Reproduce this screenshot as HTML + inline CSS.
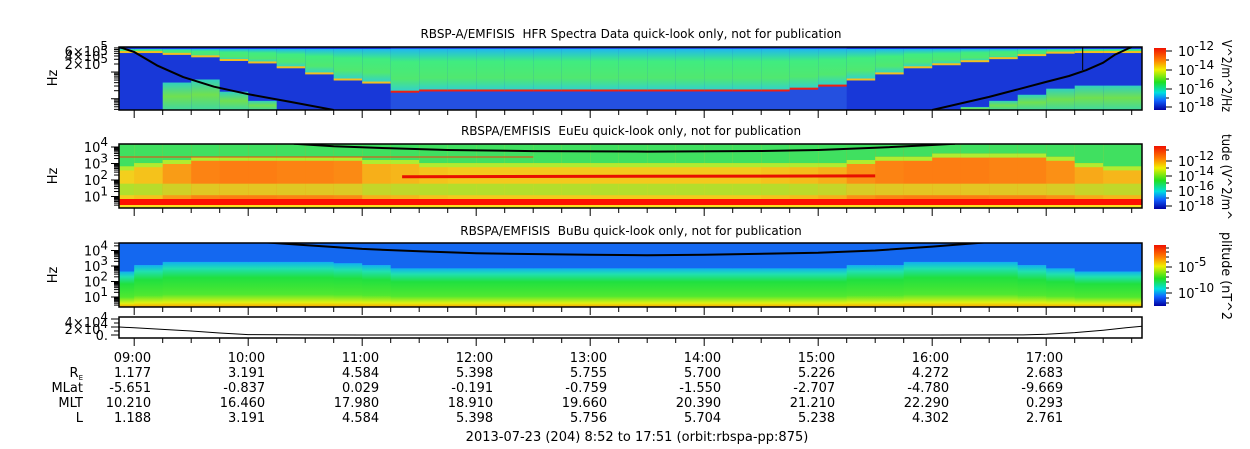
<!DOCTYPE html>
<html><head><meta charset="utf-8"><style>
html,body{margin:0;padding:0;background:#fff;}
svg{display:block;font-family:"DejaVu Sans","Liberation Sans",sans-serif;}
text{fill:#000;}
</style></head><body>
<svg id="chart" width="1250" height="449" viewBox="0 0 1250 449" xmlns="http://www.w3.org/2000/svg">
<defs>
<linearGradient id="jet" x1="0" y1="0" x2="0" y2="1">
<stop offset="0" stop-color="#f01000"/><stop offset="0.2" stop-color="#ff8000"/><stop offset="0.35" stop-color="#f0f000"/><stop offset="0.55" stop-color="#20e020"/><stop offset="0.72" stop-color="#00e0e0"/><stop offset="0.85" stop-color="#1060ff"/><stop offset="1" stop-color="#0000a0"/>
</linearGradient>
<linearGradient id="hfrGreen" x1="0" y1="0" x2="0" y2="1">
<stop offset="0" stop-color="#20b8f0"/><stop offset="0.3" stop-color="#40ec80"/><stop offset="0.7" stop-color="#50e870"/><stop offset="1" stop-color="#30d0d0"/>
</linearGradient>
<linearGradient id="hfrLowG" x1="0" y1="0" x2="0" y2="1">
<stop offset="0" stop-color="#30d0c0"/><stop offset="0.5" stop-color="#70e050"/><stop offset="1" stop-color="#40d8a0"/>
</linearGradient>
<linearGradient id="buGrad" x1="0" y1="0" x2="0" y2="1">
<stop offset="0" stop-color="#10b0f0"/><stop offset="0.15" stop-color="#20e0b0"/><stop offset="0.35" stop-color="#20e040"/><stop offset="0.72" stop-color="#50e830"/><stop offset="0.9" stop-color="#e0f010"/><stop offset="1" stop-color="#ffa000"/>
</linearGradient>
<clipPath id="c1"><rect x="119" y="47" width="1023" height="63"/></clipPath>
<clipPath id="c2"><rect x="119" y="144" width="1023" height="64"/></clipPath>
<clipPath id="c3"><rect x="119" y="243" width="1023" height="64"/></clipPath>
<clipPath id="c4"><rect x="119" y="317" width="1023" height="21"/></clipPath>
</defs>
<g id="p1" clip-path="url(#c1)"></g>
<g id="p2" clip-path="url(#c2)"></g>
<g id="p3" clip-path="url(#c3)"></g>
<g id="p4" clip-path="url(#c4)"></g>
<g id="axes"></g>
<g id="labels" font-size="13"></g>
</svg>
<script>
// ---- data ----
const colTimes = [8.875,9.125,9.375,9.625,9.875,10.125,10.375,10.625,10.875,11.125,11.375,11.625,11.875,12.125,12.375,12.625,12.875,13.125,13.375,13.625,13.875,14.125,14.375,14.625,14.875,15.125,15.375,15.625,15.875,16.125,16.375,16.625,16.875,17.125,17.375,17.625];
const hfrTop = [0.05,0.05,0.08,0.12,0.18,0.22,0.3,0.4,0.5,0.55,0.7,0.68,0.68,0.68,0.68,0.68,0.68,0.68,0.68,0.68,0.68,0.68,0.68,0.68,0.65,0.6,0.5,0.4,0.3,0.25,0.2,0.15,0.1,0.06,0.05,0.05];
const hfrLow = [1,1,0.55,0.5,0.7,0.85,1,1,1,1,1,1,1,1,1,1,1,1,1,1,1,1,1,1,1,1,1,1,1,1,0.95,0.85,0.75,0.65,0.6,0.6];
const euTop = [0.35,0.3,0.25,0.2,0.2,0.2,0.2,0.2,0.2,0.25,0.25,0.3,0.3,0.3,0.3,0.3,0.3,0.3,0.3,0.3,0.3,0.3,0.3,0.3,0.3,0.3,0.25,0.2,0.2,0.15,0.15,0.15,0.15,0.2,0.3,0.35];
const euLevel = [0.2,0.3,0.6,0.8,0.85,0.85,0.8,0.8,0.75,0.45,0.4,0.3,0.25,0.25,0.25,0.25,0.25,0.25,0.25,0.25,0.25,0.25,0.25,0.3,0.35,0.45,0.7,0.8,0.85,0.85,0.85,0.8,0.8,0.7,0.5,0.4];
const buTop = [0.45,0.35,0.3,0.3,0.3,0.3,0.3,0.3,0.32,0.35,0.4,0.4,0.4,0.4,0.4,0.4,0.4,0.4,0.4,0.4,0.4,0.4,0.4,0.4,0.4,0.4,0.35,0.35,0.3,0.3,0.3,0.3,0.35,0.4,0.45,0.45];
const hfrLineLeftT = [8.867,9.0,9.2,9.43,9.7,10.0,10.37,10.75];
const hfrLineLeftF = [5.94,5.75,5.25,4.81,4.45,4.17,3.88,3.58];
const hfrLineRightT = [16.0,16.5,17.0,17.2,17.35,17.5,17.6,17.75];
const hfrLineRightF = [3.58,4.07,4.63,4.85,5.07,5.35,5.64,5.94];
const euLineT = [10.4,10.75,11.25,11.75,12.5,13.5,14.5,15.0,15.5,16.0,16.2];
const euLineF = [4.2,4.05,3.92,3.82,3.75,3.72,3.76,3.82,3.95,4.12,4.2];
const buLineT = [10.0,10.5,11,11.5,12,13,13.5,14,15,15.5,16,16.6];
const buLineF = [4.6,4.35,4.1,3.95,3.82,3.72,3.7,3.72,3.85,4.0,4.25,4.6];
const denT = [8.867,9.0,9.25,9.5,9.75,10.0,10.5,11,12,13,14,15,16,16.8,17.0,17.25,17.5,17.7,17.85];
const denV = [20000,18000,14000,10000,5000,1000,300,0,0,0,0,0,0,300,2000,6000,12000,18000,22000];
const hourTicks = [9,10,11,12,13,14,15,16,17];
const hourLabels = ["09:00","10:00","11:00","12:00","13:00","14:00","15:00","16:00","17:00"];
const reVals = ["1.177","3.191","4.584","5.398","5.755","5.700","5.226","4.272","2.683"];
const mlatVals = ["-5.651","-0.837","0.029","-0.191","-0.759","-1.550","-2.707","-4.780","-9.669"];
const mltVals = ["10.210","16.460","17.980","18.910","19.660","20.390","21.210","22.290","0.293"];
const lVals = ["1.188","3.191","4.584","5.398","5.756","5.704","5.238","4.302","2.761"];

// ---- scales ----
const NS="http://www.w3.org/2000/svg";
const X0=119, X1=1142, T0=8.8667;
const xs = t => X0 + (t - T0) * 114;
const y1 = lf => 64 - (lf - 5.301) * 26.7;
const y2 = lf => 180 - (lf - 2) * 16.5;
const y3 = lf => 281.5 - (lf - 2) * 15.5;
const y4 = v => 335 - v / 1e4 * 4;
function el(parent, tag, attrs){const e=document.createElementNS(NS,tag);for(const k in attrs)e.setAttribute(k,attrs[k]);parent.appendChild(e);return e;}
function mix(a,b,f){const pa=[parseInt(a.substr(1,2),16),parseInt(a.substr(3,2),16),parseInt(a.substr(5,2),16)];const pb=[parseInt(b.substr(1,2),16),parseInt(b.substr(3,2),16),parseInt(b.substr(5,2),16)];return "rgb("+pa.map((v,i)=>Math.round(v+(pb[i]-v)*f)).join(",")+")";}
function colX(i){const t=colTimes[i];const x=xs(t-0.125);const xe=(i===colTimes.length-1)?X1:xs(t+0.125);return [x,xe-x+0.6];}
const p1=document.getElementById('p1'),p2=document.getElementById('p2'),p3=document.getElementById('p3'),p4=document.getElementById('p4');
const ax=document.getElementById('axes'),lb=document.getElementById('labels');

// ---- panel 1 ----
colTimes.forEach((t,i)=>{
  const [x,w]=colX(i), top=49, h=61;
  const mid = hfrTop[i] >= 0.6;
  let r=el(p1,'rect',{x:x,y:47,width:w,height:63,fill: mid ? '#2450e0' : '#1838d8'});
  
  
  let g=el(p1,'rect',{x:x,y:top,width:w,height:hfrTop[i]*h,fill:'url(#hfrGreen)'});
  
  
  let ln=el(p1,'rect',{x:x,y:top+hfrTop[i]*h-1,width:w,height:2,fill: mid ? '#f02010' : '#f0c020'});
  
  
  if(hfrLow[i]<1){
    let lo=el(p1,'rect',{x:x,y:top+hfrLow[i]*h,width:w,height:(1-hfrLow[i])*h,fill:'url(#hfrLowG)'});
    
    
  }
});
function poly(parent, ts, fs, ysc, name, sw){
  const pts=ts.map((t,i)=>xs(t).toFixed(1)+","+ysc(fs[i]).toFixed(1)).join(" ");
  const p=el(parent,'polyline',{points:pts,fill:'none',stroke:'#000','stroke-width':sw,'stroke-linejoin':'round'});
  
  
}
poly(p1,hfrLineLeftT,hfrLineLeftF,y1,'hfr-plasma-line-left',2);
poly(p1,hfrLineRightT,hfrLineRightF,y1,'hfr-plasma-line-right',2);
let vl=el(p1,'line',{x1:xs(17.32),x2:xs(17.32),y1:47,y2:70,stroke:'#000','stroke-width':1});



// ---- panel 2 ----
colTimes.forEach((t,i)=>{
  const [x,w]=colX(i), top=144, h=64;
  let m=el(p2,'rect',{x:x,y:top,width:w,height:h,fill:mix('#f0e820','#ff6a10',euLevel[i])});
  
  
  let lg=el(p2,'rect',{x:x,y:top+0.62*h,width:w,height:0.18*h,fill:mix('#a0e830','#f0c020',euLevel[i])});
  
  
  let g=el(p2,'rect',{x:x,y:top,width:w,height:euTop[i]*h,fill:'#40e060'});
  
  
  let gy=el(p2,'rect',{x:x,y:top+euTop[i]*h,width:w,height:4,fill:'#b0ec30'});
  
  
});
let rb=el(p2,'rect',{x:119,y:199,width:1023,height:6,fill:'#ff1000'});


let yb=el(p2,'rect',{x:119,y:205,width:1023,height:3,fill:'#f8e020'});


let rl=el(p2,'line',{x1:119,x2:xs(12.5),y1:157,y2:157,stroke:'#f04010','stroke-width':1});


let rt=el(p2,'line',{x1:xs(11.35),x2:xs(15.5),y1:y2(2.2),y2:y2(2.25),stroke:'#e81000','stroke-width':3});


poly(p2,euLineT,euLineF,y2,'eueu-gyro-line',2);

// ---- panel 3 ----
colTimes.forEach((t,i)=>{
  const [x,w]=colX(i), top=243, h=64;
  let b=el(p3,'rect',{x:x,y:top,width:w,height:buTop[i]*h,fill:'#1468f0'});
  
  
  let g=el(p3,'rect',{x:x,y:top+buTop[i]*h-0.3,width:w,height:(1-buTop[i])*h+0.3,fill:'url(#buGrad)'});
  
  
});
poly(p3,buLineT,buLineF,y3,'bubu-gyro-line',2);

// ---- panel 4 ----
poly(p4,denT,denV,y4,'density-line',1);

// ---- frames & ticks ----
const frames=[[47,110,'hfr-frame'],[144,208,'eueu-frame'],[243,307,'bubu-frame'],[317,338,'density-frame']];
frames.forEach(f=>{
  let r=el(ax,'rect',{x:119,y:f[0],width:1023,height:f[1]-f[0],fill:'none',stroke:'#000','stroke-width':1.5});
  
  
  for(let t=9;t<=17.85;t+=0.25){
    const x=xs(t), maj=Math.abs(t-Math.round(t))<1e-6;
    let tk=el(ax,'line',{x1:x,x2:x,y1:f[1],y2:f[1]+(maj?8:5),stroke:'#000','stroke-width':1});
    
    
  }
});
function logTicks(ysc, lo, hi, yTop, yBot){
  for(let d=Math.floor(lo); d<=hi; d++){
    for(let m=1;m<10;m++){
      const lf=d+Math.log10(m), y=ysc(lf);
      if(y<yTop||y>yBot) continue;
      let tk=el(ax,'line',{x1:119,x2:m===1?111:114,y1:y,y2:y,stroke:'#000','stroke-width':1});
      
      
    }
  }
}
logTicks(y1,3,6,47,110);
logTicks(y2,0,4,144,208);
logTicks(y3,0,4,243,307);
[0,1,2,3,4].forEach(v=>{
  let tk=el(ax,'line',{x1:119,x2:v%2===0?111:114,y1:y4(v*1e4),y2:y4(v*1e4),stroke:'#000','stroke-width':1});
  
  
});

// ---- colorbars ----
const cbs=[[48,110],[146,209],[245,306]];
cbs.forEach((c,i)=>{
  let r=el(ax,'rect',{x:1154,y:c[0],width:12,height:c[1]-c[0],fill:'url(#jet)'});
  
  
});
function cbTick(y,len){let t=el(ax,'line',{x1:1166,x2:1166+len,y1:y,y2:y,stroke:'#000','stroke-width':1});}
[51,60,70,79,89,98,107].forEach((y,i)=>cbTick(y,i%2===0?6:3));
[150,161,168,176,183,191,198,206].forEach((y,i)=>cbTick(y,i%2===1?6:3));
[248,252,257,262,267,272,277,282,288,293,298,303].forEach(y=>cbTick(y,(y===267||y===293)?6:3));

// ---- text helpers ----
function txt(x,y,s,opts){
  const t=el(lb,'text',Object.assign({x:x,y:y},opts||{}));
  t.textContent=s;return t;
}
function pow(x,y,base,exp,anchor,name){
  const t=el(lb,'text',{x:x,y:y,'text-anchor':anchor||'start'});
  
  
  const a=el(t,'tspan',{});a.textContent=base;
  const b=el(t,'tspan',{dy:-6,'font-size':12});b.textContent=exp;
  return t;
}
// titles
[[34,"RBSP-A/EMFISIS  HFR Spectra Data quick-look only, not for publication",'hfr-title'],
 [131,"RBSPA/EMFISIS  EuEu quick-look only, not for publication",'eueu-title'],
 [231,"RBSPA/EMFISIS  BuBu quick-look only, not for publication",'bubu-title']].forEach(a=>{
  const t=txt(631,a[0]+4,a[1],{'text-anchor':'middle','font-size':12});
  t.setAttribute('style','white-space:pre');
  
  
});
// Hz labels
[[78,'hfr-y-title'],[176,'eueu-y-title'],[275,'bubu-y-title']].forEach(a=>{
  const t=txt(0,0,'Hz',{'text-anchor':'middle',transform:'translate(57,'+a[0]+') rotate(-90)'});
  
  
});
// y tick labels
pow(108,56,'6×10','5','end','hfr-y-label-6e5');
pow(108,61,'4×10','5','end','hfr-y-label-4e5');
pow(108,69,'2×10','5','end','hfr-y-label-2e5');
[4,3,2,1].forEach(d=>pow(108,y2(d)+5,'10',String(d),'end','eueu-y-label'));
[4,3,2,1].forEach(d=>pow(108,y3(d)+5,'10',String(d),'end','bubu-y-label'));
pow(108,327,'4×10','4','end','density-y-label-4e4');
pow(108,334,'2×10','4','end','density-y-label-2e4');
{const t=txt(108,340,'0.',{'text-anchor':'end'});}
// colorbar labels
[[56,'-12'],[75,'-14'],[94,'-16'],[112,'-18']].forEach(a=>pow(1178,a[0],'10',a[1],'start','colorbar-1-label'));
[[166,'-12'],[181,'-14'],[196,'-16'],[211,'-18']].forEach(a=>pow(1178,a[0],'10',a[1],'start','colorbar-2-label'));
[[272,'-5'],[298,'-10']].forEach(a=>pow(1178,a[0],'10',a[1],'start','colorbar-3-label'));
[[40,'V^2/m^2/Hz',72,'colorbar-1-title'],[134,'tude (V^2/m^',86,'colorbar-2-title'],[232,'plitude (nT^2',88,'colorbar-3-title']].forEach(a=>{
  const t=txt(0,0,a[1],{transform:'translate(1222,'+a[0]+') rotate(90)',textLength:a[2],lengthAdjust:'spacingAndGlyphs'});
  
  
});
// bottom rows
const rows=[[362,hourLabels,'time-label'],[377,reVals,'re-value'],[392,mlatVals,'mlat-value'],[407,mltVals,'mlt-value'],[422,lVals,'l-value']];
rows.forEach(r=>{
  hourTicks.forEach((h,i)=>{
    const t=txt(xs(h)+17,r[0],r[1][i],{'text-anchor':'end'});
    
    
  });
});
{const t=el(lb,'text',{x:83,y:377,'text-anchor':'end'});
 const a=el(t,'tspan',{});a.textContent='R';const b=el(t,'tspan',{dy:3,'font-size':7});b.textContent='E';}
[[392,'MLat','mlat-row-label'],[407,'MLT','mlt-row-label'],[422,'L','l-row-label']].forEach(a=>{
  const t=txt(83,a[0],a[1],{'text-anchor':'end'});
});
{const t=txt(637,441,'2013-07-23 (204) 8:52 to 17:51 (orbit:rbspa-pp:875)',{'text-anchor':'middle'});}
</script>
</body></html>
